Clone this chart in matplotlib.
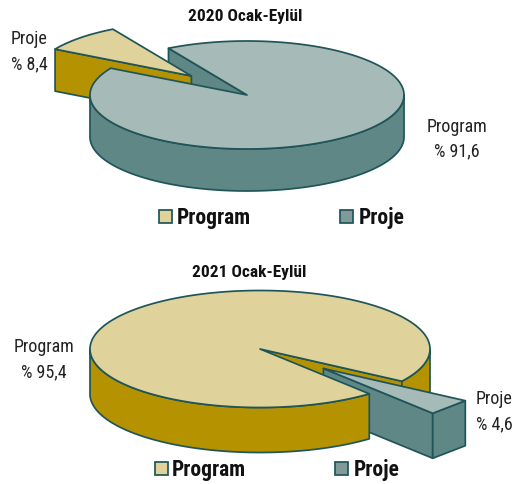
import numpy as np
import matplotlib
matplotlib.use("Agg")
import matplotlib.pyplot as plt
from matplotlib.patches import Polygon

plt.rcParams['font.family'] = ['Roboto Condensed', 'Fira Sans Condensed', 'Liberation Sans', 'DejaVu Sans']

categories = ['Program', 'Proje']
titles = ['2020 Ocak-Eylül', '2021 Ocak-Eylül']
values_2020 = [91.6, 8.4]
values_2021 = [95.4, 4.6]
labels_2020 = ['Program\n% 91,6', 'Proje\n% 8,4']
labels_2021 = ['Program\n% 95,4', 'Proje\n% 4,6']

EDGE = '#1F5559'
CREAM, GOLD = '#DFD39B', '#B59300'
LTEAL, DTEAL = '#A6BAB8', '#5F8785'
SWATCH = ['#DFD39B', '#7F9A98']

fig = plt.figure(figsize=(5.13, 4.84), dpi=100)
ax = fig.add_axes([0, 0, 1, 1])
ax.set_xlim(0, 513)
ax.set_ylim(484, 0)
ax.axis('off')


def arc(c, rx, ry, a0, a1, dy=0, n=200):
    t = np.radians(np.linspace(a0, a1, n))
    return np.column_stack([c[0] + rx * np.cos(t), c[1] - ry * np.sin(t) + dy])


def poly(pts, fc):
    ax.add_patch(Polygon(pts, closed=True, fc=fc, ec=EDGE, lw=1.25, joinstyle='round'))


def wall(c, rx, ry, a0, a1, d, fc, n=200):
    poly(np.vstack([arc(c, rx, ry, a0, a1, n=n), arc(c, rx, ry, a1, a0, d, n=n)]), fc)


def radial(c, rx, ry, a, d, fc):
    p = arc(c, rx, ry, a, a, n=1)[0]
    poly([c, p, (p[0], p[1] + d), (c[0], c[1] + d)], fc)


def pie(c, rx, ry, d, values, a_start, top_main, side_main, top_ex, side_ex):
    a0, a1 = a_start, a_start + values[1] * 3.6   # exploded sector
    mid = np.radians((a0 + a1) / 2)
    ex = (c[0] + 0.5 * rx * np.cos(mid), c[1] - 0.5 * ry * np.sin(mid))
    main_pts = np.vstack([[c], arc(c, rx, ry, a1, a0 + 360)])
    if a0 > 0:   # sector at the back left
        radial(c, rx, ry, a0, d, side_main)
        radial(ex, rx, ry, a1, d, side_ex)
        poly(np.vstack([[ex], arc(ex, rx, ry, a0, a1)]), top_ex)
        wall(c, rx, ry, 180, 360, d, side_main)
    else:        # sector at the front right, its outer edge drawn as a chord
        radial(c, rx, ry, a1, d, side_main)
        wall(c, rx, ry, a1, 0, d, side_main)
        radial(ex, rx, ry, a0, d, side_ex)
        wall(ex, rx, ry, a0, a1, d, side_ex, n=2)
        poly(np.vstack([[ex], arc(ex, rx, ry, a0, a1, n=2)]), top_ex)
        wall(c, rx, ry, 180, 360 + a0, d, side_main)
    poly(main_pts, top_main)


pie((247, 95), 157, 54, 42, values_2020, 120, LTEAL, DTEAL, CREAM, GOLD)
pie((260, 349), 170, 58.5, 45, values_2021, -50, CREAM, GOLD, LTEAL, DTEAL)

title_kw = dict(ha='center', va='center', fontsize=12.5, fontweight='bold', color='#111111')
ax.text(245, 17, titles[0], **title_kw)
ax.text(249, 272, titles[1], **title_kw)

txt = dict(fontsize=13, color='#222222', linespacing=1.5, va='center')
ax.text(48, 52, labels_2020[1], ha='right', multialignment='right', **txt)
ax.text(457, 139, labels_2020[0], ha='center', **txt)
ax.text(44, 360, labels_2021[0], ha='center', **txt)
ax.text(494, 412, labels_2021[1], ha='center', **txt)

legend_pos = [[(159, 217), (340, 217)], [(155, 469), (335, 469)]]
for row, text_dx in zip(legend_pos, [(18, 19), (17, 19)]):
    for (x, y), name, col, dx in zip(row, categories, SWATCH, text_dx):
        ax.add_patch(plt.Rectangle((x, y - 7), 13, 13, fc=col, ec=EDGE, lw=1.25))
        ax.text(x + dx, y + 1, name, ha='left', va='center', fontsize=15.5, fontweight='bold', color='#111111')

fig.savefig('out.png', dpi=100)
